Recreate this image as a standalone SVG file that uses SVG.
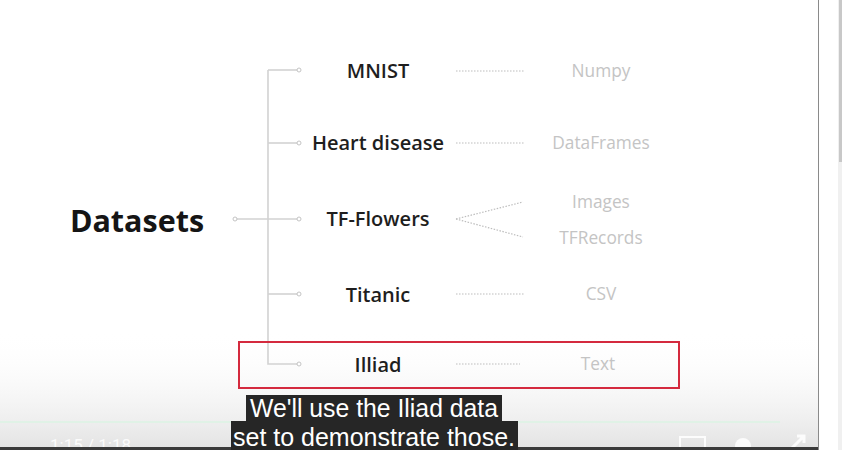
<svg xmlns="http://www.w3.org/2000/svg" width="842" height="450" viewBox="0 0 842 450">
<defs>
<linearGradient id="shade" x1="0" y1="0" x2="0" y2="1">
<stop offset="0" stop-color="#ffffff" stop-opacity="0"/>
<stop offset="1" stop-color="#e2e2e2"/>
</linearGradient>
<style>
.lbl{font-family:"Open Sans","Liberation Sans",sans-serif;font-weight:600;font-size:20px;fill:#1e1e1e;text-anchor:middle}
.fmt{font-family:"Open Sans","Liberation Sans",sans-serif;font-size:17.3px;fill:#c4c4c4;text-anchor:middle}
.tree{stroke:#d2d2d2;stroke-width:1.6;fill:none}
.dot{fill:#fff;stroke:#c4c4c4;stroke-width:1}
.dash{stroke:#bdbdbd;stroke-width:1.2;stroke-dasharray:1.5 1.5;fill:none}
.cap{font-family:"Liberation Sans",Arial,sans-serif;font-size:25px;fill:#ffffff}
</style>
</defs>
<rect width="842" height="450" fill="#ffffff"/>
<rect x="0" y="330" width="818" height="120" fill="url(#shade)"/>

<g id="connectors">
<path class="tree" d="M268 70 V364 H299"/>
<line class="tree" x1="268" y1="70" x2="299" y2="70"/>
<line class="tree" x1="268" y1="143" x2="299" y2="143"/>
<line class="tree" x1="235" y1="219" x2="299" y2="219"/>
<line class="tree" x1="268" y1="294" x2="299" y2="294"/>
<circle class="dot" cx="299" cy="70" r="2"/>
<circle class="dot" cx="299" cy="143" r="2"/>
<circle class="dot" cx="235" cy="219" r="2"/>
<circle class="dot" cx="299" cy="219" r="2"/>
<circle class="dot" cx="299" cy="294" r="2"/>
<circle class="dot" cx="299" cy="364" r="2"/>
<line class="dash" x1="456" y1="71" x2="524" y2="71"/>
<line class="dash" x1="456" y1="143" x2="524" y2="143"/>
<line class="dash" x1="456" y1="219" x2="523" y2="202"/>
<line class="dash" x1="456" y1="219" x2="523" y2="237"/>
<line class="dash" x1="456" y1="294" x2="524" y2="294"/>
<line class="dash" x1="456" y1="364" x2="520" y2="364"/>
</g>

<g id="datasets"><text x="137" y="232" style="font-family:'Open Sans','Liberation Sans',sans-serif;font-weight:700;font-size:30.5px;fill:#151515;text-anchor:middle">Datasets</text></g>
<g id="mnist"><text class="lbl" x="378" y="78">MNIST</text></g>
<g id="heart"><text class="lbl" x="378" y="150">Heart disease</text></g>
<g id="tfflowers"><text class="lbl" x="378" y="226">TF-Flowers</text></g>
<g id="titanic"><text class="lbl" x="378" y="302">Titanic</text></g>
<g id="illiad"><text class="lbl" x="378" y="372">Illiad</text></g>

<g id="numpy"><text class="fmt" x="601" y="77">Numpy</text></g>
<g id="dataframes"><text class="fmt" x="601" y="149">DataFrames</text></g>
<g id="images"><text class="fmt" x="601" y="208">Images</text></g>
<g id="tfrecords"><text class="fmt" x="601" y="244">TFRecords</text></g>
<g id="csv"><text class="fmt" x="601" y="300">CSV</text></g>
<g id="text"><text class="fmt" x="598" y="370">Text</text></g>

<g id="highlight"><rect x="239" y="342" width="440" height="46" fill="none" stroke="#d42a3e" stroke-width="2"/></g>

<g id="player">
<line x1="0" y1="422" x2="780" y2="422" stroke="#e0f2e6" stroke-width="2"/>
<text x="50" y="451" style="font-family:Roboto,'Liberation Sans',sans-serif;font-size:17px;fill:#ffffff;opacity:0.85">1:15  /  1:18</text>
<rect x="680" y="437" width="25" height="16" fill="none" stroke="#fff" stroke-width="2" opacity="0.85"/>
<circle cx="743" cy="446" r="8" fill="#fff" opacity="0.85"/>
<path d="M792 448 L804 436 M797 436 H804 V443" stroke="#fff" stroke-width="3" fill="none" opacity="0.85"/>
<rect x="0" y="447" width="818" height="3" fill="#3a3a3a"/>
</g>

<g id="captions">
<rect x="246" y="395" width="256" height="27" fill="#262626"/>
<rect x="231" y="421" width="287" height="29" fill="#262626"/>
<text class="cap" x="374" y="417" text-anchor="middle" textLength="248" lengthAdjust="spacingAndGlyphs">We'll use the Iliad data</text>
<text class="cap" x="374" y="446" text-anchor="middle" textLength="282" lengthAdjust="spacingAndGlyphs">set to demonstrate those.</text>
</g>

<g id="chrome">
<line x1="818.5" y1="0" x2="818.5" y2="450" stroke="#8a8a8a" stroke-width="1"/>
<rect x="819" y="0" width="23" height="450" fill="#ffffff"/>
<rect x="838" y="0" width="4" height="450" fill="#f0f0f0"/>
<rect x="839" y="0" width="3" height="162" fill="#c8c8c8"/>
</g>
</svg>
